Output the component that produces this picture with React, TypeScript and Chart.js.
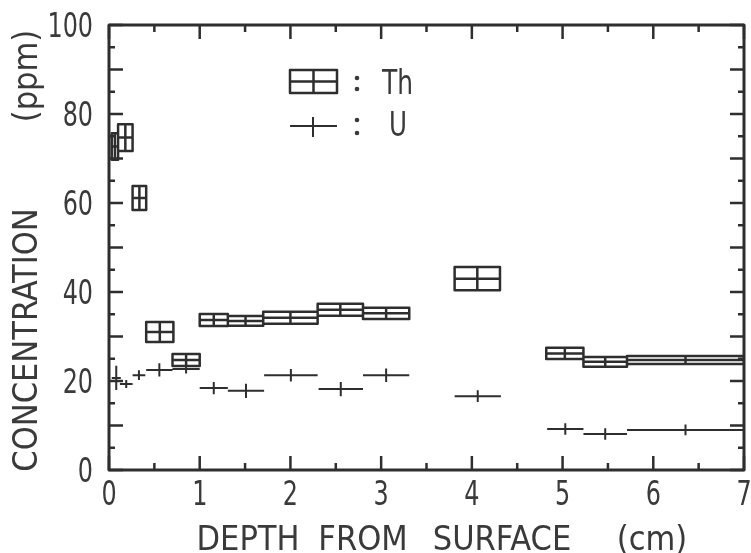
import React, { useEffect, useRef } from "react";
import { Chart, registerables } from "chart.js";

Chart.register(...registerables);

// ---- data ----
const xTickLabels = ["0", "1", "2", "3", "4", "5", "6", "7"];
const yTickLabels = ["0", "20", "40", "60", "80", "100"];

// Th: depth interval (cm) and concentration ± error (ppm)
const thStart = [0.03, 0.1, 0.26, 0.41, 0.7, 1.0, 1.31, 1.7, 2.3, 2.8, 3.81, 4.82, 5.23, 5.71];
const thEnd = [0.1, 0.26, 0.41, 0.71, 1.0, 1.31, 1.7, 2.3, 2.8, 3.31, 4.31, 5.23, 5.71, 7.0];
const thValue = [72.7, 74.7, 61.1, 31.0, 24.7, 33.7, 33.5, 34.2, 36.0, 35.2, 43.0, 26.2, 24.3, 24.7];
const thError = [3.0, 3.0, 2.7, 2.25, 1.35, 1.35, 1.1, 1.35, 1.35, 1.25, 2.6, 1.25, 1.1, 0.9];

// U: depth interval (cm) and concentration ± error (ppm)
const uStart = [0.03, 0.12, 0.26, 0.41, 0.7, 1.0, 1.31, 1.71, 2.31, 2.8, 3.81, 4.83, 5.23, 5.71];
const uEnd = [0.13, 0.26, 0.4, 0.7, 1.0, 1.31, 1.71, 2.3, 2.8, 3.31, 4.32, 5.23, 5.71, 7.0];
const uValue = [20.7, 19.3, 21.3, 22.5, 22.7, 18.4, 17.8, 21.3, 18.2, 21.3, 16.6, 9.2, 8.1, 9.0];
const uError = [2.7, 0.9, 1.1, 1.5, 1.0, 1.4, 1.6, 1.4, 1.6, 1.5, 1.3, 1.3, 1.3, 1.2];

const xTitleWords = ["DEPTH", "FROM", "SURFACE", "(cm)"];
const yTitleWords = ["CONCENTRATION", "(ppm)"];
const legendTh = "Th";
const legendU = "U";

const LINE = "#2e2e2e";
const TEXT = "#3a3a3a";
const FAMILY = '"DejaVu Sans Condensed", "DejaVu Sans", sans-serif';
const FONT = "34px " + FAMILY;
const DIGIT_SQUEEZE = 0.78;
const TITLE_SQUEEZE = 1.0;

// word centres (pixels along the text direction)
const xTitleCentres = [248, 363, 502, 652];
const yTitleCentres = [340, 76];

function drawFit(ctx: CanvasRenderingContext2D, text: string, x: number, y: number, width: number) {
  const w = ctx.measureText(text).width;
  ctx.save();
  ctx.translate(x, y);
  ctx.scale(width / w, 1);
  ctx.textAlign = "left";
  ctx.textBaseline = "alphabetic";
  ctx.fillText(text, 0, 0);
  ctx.restore();
}

function drawSqueezed(
  ctx: CanvasRenderingContext2D,
  text: string,
  x: number,
  y: number,
  align: "center" | "right",
  k: number
) {
  ctx.save();
  ctx.translate(x, y);
  ctx.scale(k, 1);
  ctx.textAlign = align;
  ctx.textBaseline = "alphabetic";
  ctx.fillText(text, 0, 0);
  ctx.restore();
}

const framePlugin = {
  id: "frameAndText",
  afterDraw(chart: any) {
    const ctx: CanvasRenderingContext2D = chart.ctx;
    const { left, right, top, bottom } = chart.chartArea;
    const xs = chart.scales.x;
    const ys = chart.scales.y;
    ctx.save();
    ctx.strokeStyle = LINE;
    ctx.lineCap = "butt";
    // ticks (inside, all four sides)
    ctx.lineWidth = 2.5;
    for (let v = 0; v <= 7.0001; v += 0.5) {
      const px = xs.getPixelForValue(v);
      const major = Math.abs(v - Math.round(v)) < 1e-6;
      const len = major ? 14 : 7;
      ctx.beginPath();
      ctx.moveTo(px, bottom);
      ctx.lineTo(px, bottom - len);
      ctx.moveTo(px, top);
      ctx.lineTo(px, top + len);
      ctx.stroke();
    }
    for (let v = 0; v <= 100.0001; v += 5) {
      const py = ys.getPixelForValue(v);
      const major = v % 10 === 0;
      const len = major ? 14 : 6;
      ctx.beginPath();
      ctx.moveTo(left, py);
      ctx.lineTo(left + len, py);
      ctx.moveTo(right, py);
      ctx.lineTo(right - len, py);
      ctx.stroke();
    }
    // frame
    ctx.lineWidth = 3;
    ctx.lineJoin = "round";
    ctx.strokeRect(left, top, right - left, bottom - top);

    // tick labels
    ctx.fillStyle = TEXT;
    ctx.font = FONT;
    xTickLabels.forEach((t, i) => {
      drawSqueezed(ctx, t, xs.getPixelForValue(i), 505, "center", DIGIT_SQUEEZE);
    });
    yTickLabels.forEach((t, i) => {
      drawSqueezed(ctx, t, 93, ys.getPixelForValue(i * 20) + 12.4, "right", DIGIT_SQUEEZE);
    });

    // axis titles
    xTitleWords.forEach((w, i) => {
      drawSqueezed(ctx, w, xTitleCentres[i], 550, "center", TITLE_SQUEEZE);
    });
    ctx.save();
    ctx.translate(37, 0);
    ctx.rotate(-Math.PI / 2);
    yTitleWords.forEach((w, i) => {
      drawSqueezed(ctx, w, -yTitleCentres[i], 0, "center", TITLE_SQUEEZE);
    });
    ctx.restore();

    // legend
    ctx.lineWidth = 2.5;
    ctx.lineJoin = "round";
    ctx.beginPath();
    ctx.rect(290, 70, 47, 23);
    ctx.moveTo(290, 81.5);
    ctx.lineTo(337, 81.5);
    ctx.moveTo(313.5, 70);
    ctx.lineTo(313.5, 93);
    ctx.stroke();
    ctx.lineWidth = 2;
    ctx.beginPath();
    ctx.moveTo(290, 126);
    ctx.lineTo(337, 126);
    ctx.moveTo(313, 117);
    ctx.lineTo(313, 137);
    ctx.stroke();
    for (const [cx, cy] of [[357, 78], [357, 89], [357, 120], [357, 133]]) {
      ctx.beginPath();
      ctx.arc(cx, cy, 2.3, 0, Math.PI * 2);
      ctx.fill();
    }
    ctx.font = FONT;
    drawFit(ctx, legendTh, 382, 94, 31);
    drawFit(ctx, legendU, 389, 136, 18);
    ctx.restore();
  },
};

export default function App() {
  const ref = useRef<HTMLCanvasElement>(null);
  useEffect(() => {
    const canvas = ref.current;
    if (!canvas) return;

    const thData: any[] = [];
    for (let i = 0; i < thValue.length; i++) {
      const x0 = thStart[i];
      const x1 = thEnd[i];
      const c = thValue[i];
      const lo = c - thError[i];
      const hi = c + thError[i];
      const xm = (x0 + x1) / 2;
      thData.push(
        { x: x0, y: lo }, { x: x1, y: lo }, { x: x1, y: hi }, { x: x0, y: hi }, { x: x0, y: lo }, { x: x0, y: null },
        { x: x0, y: c }, { x: x1, y: c }, { x: x1, y: null },
        { x: xm, y: lo }, { x: xm, y: hi }, { x: xm, y: null }
      );
    }
    const uData: any[] = [];
    for (let i = 0; i < uValue.length; i++) {
      const x0 = uStart[i];
      const x1 = uEnd[i];
      const c = uValue[i];
      const xm = (x0 + x1) / 2;
      uData.push(
        { x: x0, y: c }, { x: x1, y: c }, { x: x1, y: null },
        { x: xm, y: c - uError[i] }, { x: xm, y: c + uError[i] }, { x: xm, y: null }
      );
    }

    const chart = new Chart(canvas, {
      type: "scatter",
      data: {
        datasets: [
          {
            label: "Th",
            data: thData,
            showLine: true,
            spanGaps: false,
            borderColor: LINE,
            borderWidth: 2.5,
            pointRadius: 0,
            borderJoinStyle: "round",
            borderCapStyle: "butt",
          } as any,
          {
            label: "U",
            data: uData,
            showLine: true,
            spanGaps: false,
            borderColor: LINE,
            borderWidth: 2,
            pointRadius: 0,
            borderCapStyle: "butt",
          } as any,
        ],
      },
      options: {
        animation: false,
        responsive: false,
        devicePixelRatio: 1,
        layout: { padding: { top: 25, right: 7, left: 0, bottom: 0 } },
        plugins: { legend: { display: false }, tooltip: { enabled: false } },
        scales: {
          x: {
            type: "linear",
            min: 0,
            max: 7,
            grid: { display: false, drawTicks: false },
            border: { display: false },
            ticks: { display: false, stepSize: 1 },
            afterFit: (s: any) => {
              s.height = 83;
              s.paddingLeft = 0;
              s.paddingRight = 0;
              s.paddingTop = 0;
              s.paddingBottom = 0;
            },
          },
          y: {
            type: "linear",
            min: 0,
            max: 100,
            grid: { display: false, drawTicks: false },
            border: { display: false },
            ticks: { display: false, stepSize: 20 },
            afterFit: (s: any) => {
              s.width = 109;
              s.paddingLeft = 0;
              s.paddingRight = 0;
              s.paddingTop = 0;
              s.paddingBottom = 0;
            },
          },
        },
      } as any,
      plugins: [framePlugin],
    });
    return () => chart.destroy();
  }, []);

  return (
    <div style={{ position: "absolute", left: 0, top: 0, width: 751, height: 553, background: "#fff" }}>
      <canvas ref={ref} width={751} height={553} style={{ display: "block" }} />
    </div>
  );
}
